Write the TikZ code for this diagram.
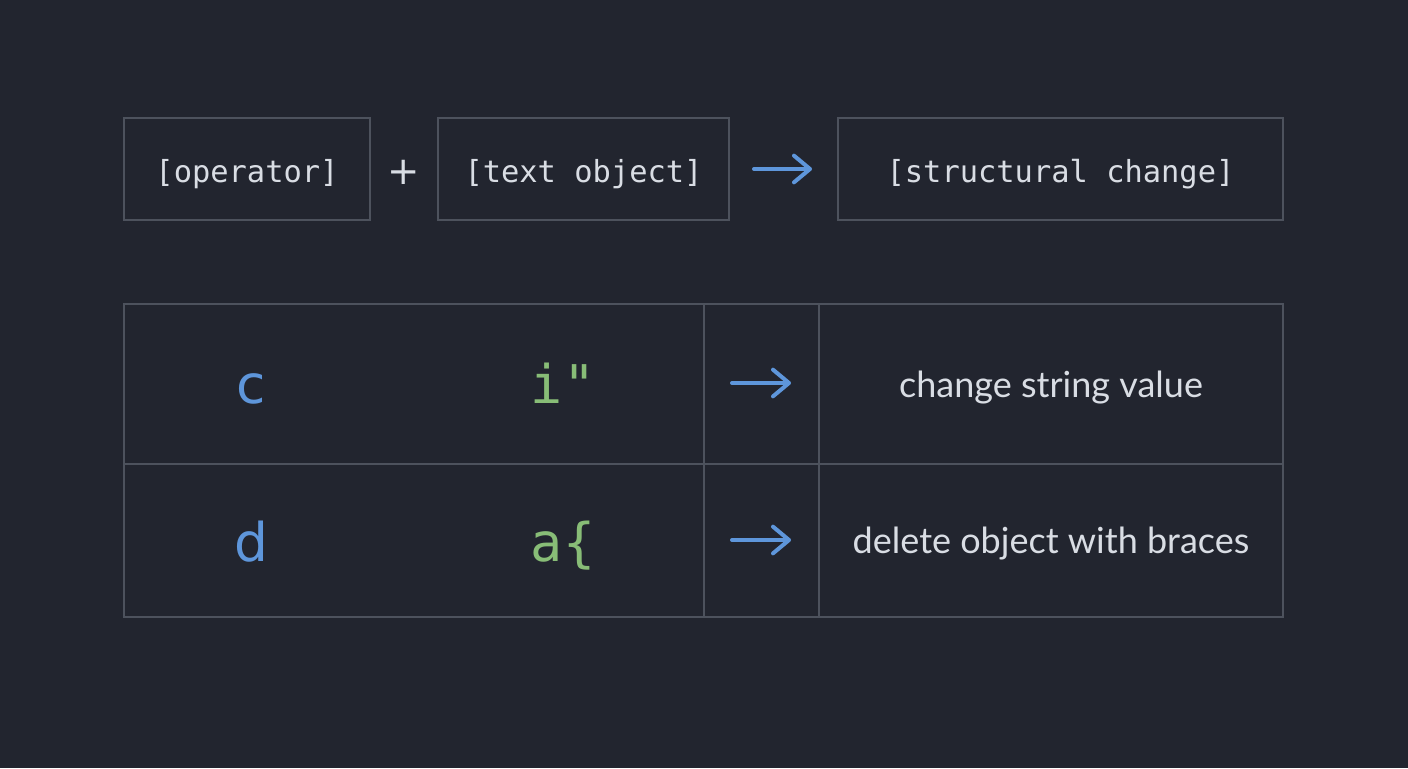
\documentclass[tikz,border=0pt]{standalone}
\usepackage{fontspec}
\setmainfont{Lato}
\newfontfamily\codefont{DejaVu Sans Mono}
\usetikzlibrary{arrows.meta}
\definecolor{bgc}{HTML}{22252F}
\definecolor{edgec}{HTML}{4D525D}
\definecolor{txtc}{HTML}{D9DDE4}
\definecolor{bluec}{HTML}{5E96DB}
\definecolor{greenc}{HTML}{88BD77}
\tikzset{
  topbox/.style={draw=edgec, line width=1.5pt, inner sep=0pt, minimum height=102*0.75pt},
  toptxt/.style={anchor=base, inner sep=0pt, text=txtc, font=\codefont\fontsize{22.8}{26}\selectfont},
  cellbox/.style={draw=edgec, line width=1.5pt, inner sep=0pt},
  arr/.style={draw=bluec, line width=3pt, line cap=round,
    -{Straight Barb[length=12pt,width=20pt,line width=3pt,round]}},
  opkey/.style={anchor=base, text=bluec, font=\fontspec{DejaVu Sans}\fontsize{40}{44}\selectfont},
  objkey/.style={anchor=base, text=greenc, font=\codefont\fontsize{40}{44}\selectfont},
  desc/.style={anchor=base, text=txtc, font=\fontsize{27}{31}\selectfont},
}
\begin{document}
\begin{tikzpicture}[x=0.75pt,y=-0.75pt]
\fill[bgc] (0,0) rectangle (1408,768);
\useasboundingbox (0,0) rectangle (1408,768);
% top row
\node[topbox, minimum width=246*0.75pt] (op) at (247,169) {};
\node[toptxt] (opt) at (247,182) {[operator]};
\node[text=txtc, inner sep=0pt, font=\fontspec{DejaVu Sans}\fontsize{29}{31}\selectfont] (plus) at (404,172) {+};
\node[topbox, minimum width=291*0.75pt] (obj) at (583.5,169) {};
\node[toptxt] (objt) at (583.5,182) {[text object]};
\node[topbox, minimum width=445*0.75pt] (res) at (1060.5,169) {};
\node[toptxt] (rest) at (1060.5,182) {[structural change]};
\draw[arr, shorten <=24*0.75pt, shorten >=25*0.75pt] (obj.east) -- (res.west);
% table
\node[cellbox, minimum width=580*0.75pt, minimum height=160*0.75pt] (k1) at (414,384) {};
\node[cellbox, minimum width=115*0.75pt, minimum height=160*0.75pt] (a1) at (761.5,384) {};
\node[cellbox, minimum width=464*0.75pt, minimum height=160*0.75pt] (d1) at (1051,384) {};
\node[cellbox, minimum width=580*0.75pt, minimum height=153*0.75pt] (k2) at (414,540.5) {};
\node[cellbox, minimum width=115*0.75pt, minimum height=153*0.75pt] (a2) at (761.5,540.5) {};
\node[cellbox, minimum width=464*0.75pt, minimum height=153*0.75pt] (d2) at (1051,540.5) {};
% row 1
\node[opkey] (c) at (251,403) {c};
\node[objkey] (iq) at (563,403) {i"};
\coordinate (a1s) at (732,383);
\coordinate (a1e) at (791,383);
\draw[arr] (a1s) -- (a1e);
\node[desc] (t1) at (1051,397) {change string value};
% row 2
\node[opkey] (d) at (251,561) {d};
\node[objkey] (ab) at (563,561) {a\{};
\coordinate (a2s) at (732,540);
\coordinate (a2e) at (791,540);
\draw[arr] (a2s) -- (a2e);
\node[desc] (t2) at (1051,553) {delete object with braces};
\end{tikzpicture}
\end{document}
